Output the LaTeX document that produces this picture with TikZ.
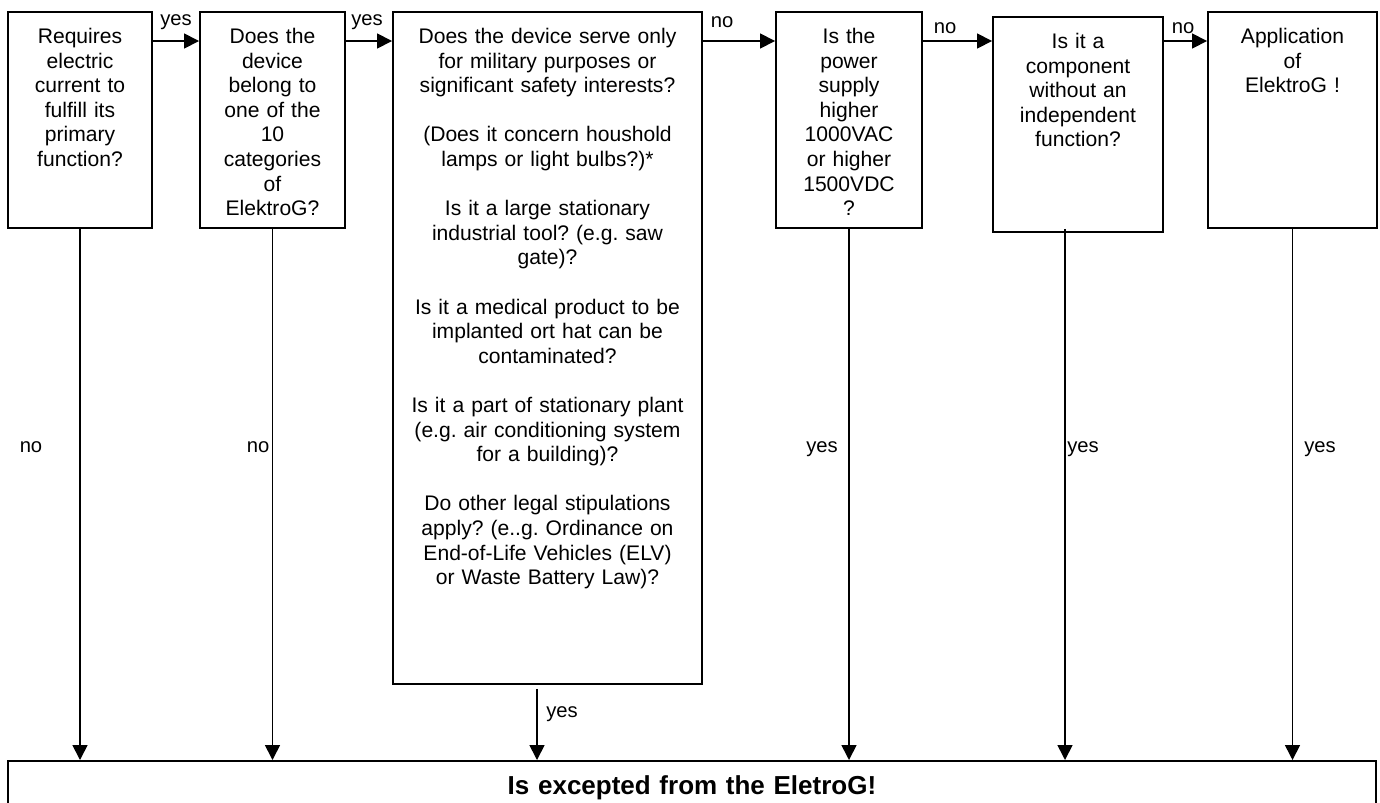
\documentclass[tikz,border=0pt]{standalone}
\usepackage{fontspec}
\setmainfont{Liberation Sans}
\usetikzlibrary{arrows.meta, positioning, calc}
\frenchspacing

\begin{document}
\begin{tikzpicture}[
    query/.style={rectangle, draw, line width=1.1pt, anchor=north, inner sep=0pt, align=center, text height=0.63cm, font=\fontsize{12}{14}\selectfont},
    outcome/.style={rectangle, draw, line width=1.1pt, anchor=north, inner sep=0pt, align=center, text width=27.36cm, text height=0.68cm, text depth=1cm, font=\fontsize{14.8}{17}\selectfont\bfseries},
    arr/.style={-{Triangle[length=8.5pt, width=8.5pt]}, line width=0.95pt},
    lbl/.style={anchor=base, inner sep=0pt, font=\fontsize{11.5}{13}\selectfont}
]
\useasboundingbox (0,0) rectangle (27.6,-16.04);

% Top row -- questions
\node[query, text width=2.88cm, text depth=3.69cm] (q1) at (1.6,-0.22) {Requires\\electric\\current to\\fulfill its\\primary\\function?};
\node[query, text width=2.9cm, text depth=3.69cm] (q2) at (5.45,-0.22) {Does the\\device\\belong to\\one of the\\10\\categories\\of\\ElektroG?};
\node[query, text width=6.18cm, text depth=12.81cm] (q3) at (10.95,-0.22) {Does the device serve only\\for military purposes or\\significant safety interests?\\[14pt]
    (Does it concern houshold\\lamps or light bulbs?)*\\[14pt]
    Is it a large stationary\\industrial tool? (e.g. saw\\gate)?\\[14pt]
    Is it a medical product to be\\implanted ort hat can be\\contaminated?\\[14pt]
    Is it a part of stationary plant\\(e.g. air conditioning system\\for a building)?\\[14pt]
    Do other legal stipulations\\apply? (e..g. Ordinance on\\End-of-Life Vehicles (ELV)\\or Waste Battery Law)?};
\node[query, text width=2.92cm, text depth=3.69cm] (q4) at (16.98,-0.22) {Is the\\power\\supply\\higher\\1000VAC\\or higher\\1500VDC\\?};
\node[query, text width=3.4cm, text depth=3.67cm] (q5) at (21.56,-0.32) {Is it a\\component\\without an\\independent\\function?};
\node[query, text width=3.38cm, text depth=3.69cm] (q6) at (25.85,-0.22) {Application\\of\\ElektroG !};

% Bottom -- result
\node[outcome] (fin) at (13.84,-15.2) {Is excepted from the EletroG!};

% Horizontal chain
\coordinate (lvl) at (0,-0.82);
\draw[arr] (q1.east |- lvl) -- (q2.west |- lvl);
\draw[arr] (q2.east |- lvl) -- (q3.west |- lvl);
\draw[arr] (q3.east |- lvl) -- (q4.west |- lvl);
\draw[arr] (q4.east |- lvl) -- (q5.west |- lvl);
\draw[arr] (q5.east |- lvl) -- (q6.west |- lvl);

\node[lbl] (y1) at (3.52,-0.50) {yes};
\node[lbl] (y2) at (7.34,-0.50) {yes};
\node[lbl] (n3) at (14.44,-0.55) {no};
\node[lbl] (n4) at (18.9,-0.66) {no};
\node[lbl] (n5) at (23.66,-0.66) {no};

% Down to the result
\coordinate (q3out) at ($(q3.south)+(-0.21,-0.08)$);
\coordinate (q5out) at ($(q5.south)+(-0.26,0.08)$);
\foreach \n in {q1,q2,q4,q6} {
    \draw[arr] (\n.south) -- (\n.south |- fin.north);
}
\foreach \n in {q3out,q5out} {
    \draw[arr] (\n) -- (\n |- fin.north);
}

\node[lbl] (nd1) at (0.62,-9.04) {no};
\node[lbl] (nd2) at (5.16,-9.04) {no};
\node[lbl] (yd3) at (11.24,-14.34) {yes};
\node[lbl] (yd4) at (16.44,-9.04) {yes};
\node[lbl] (yd5) at (21.66,-9.04) {yes};
\node[lbl] (yd6) at (26.4,-9.04) {yes};

\end{tikzpicture}
\end{document}
